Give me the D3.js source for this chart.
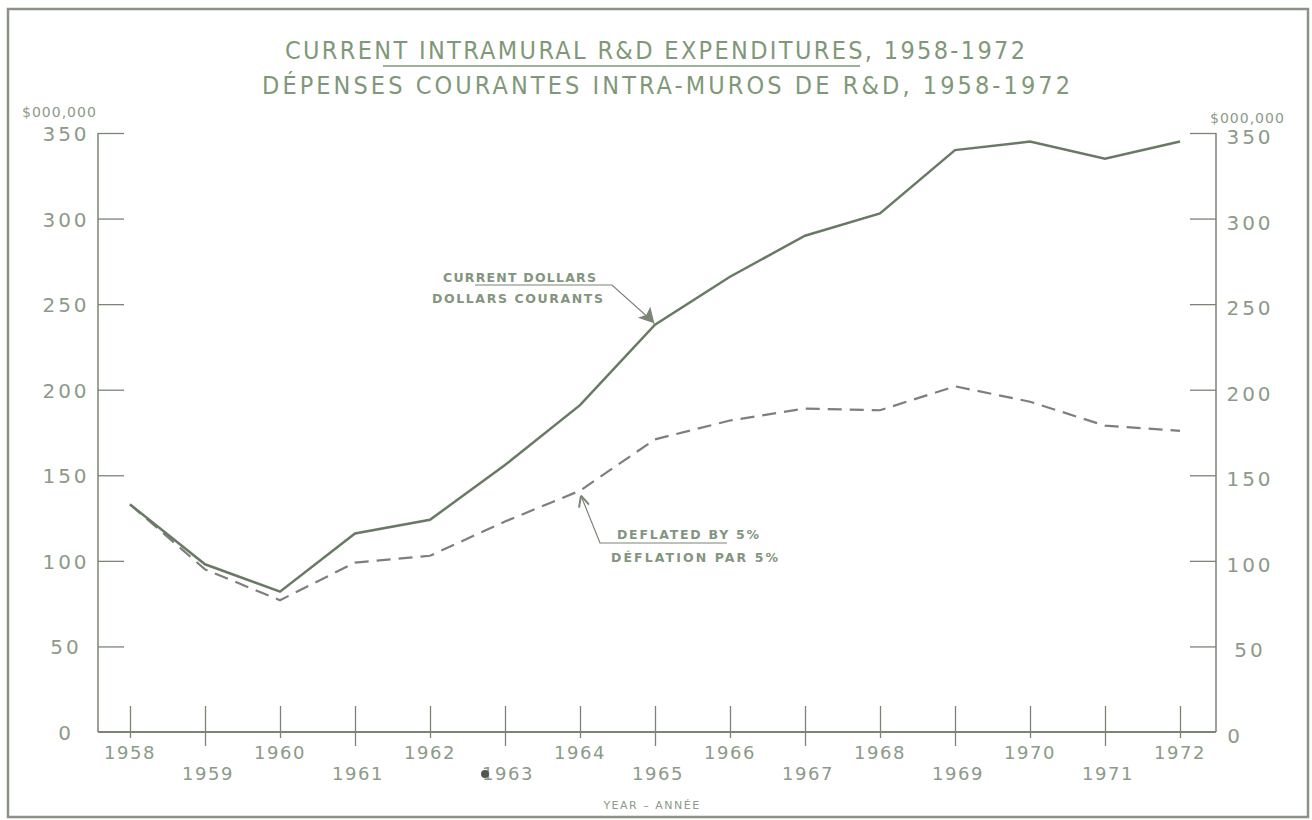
<!DOCTYPE html>
<html><head><meta charset="utf-8">
<script src="https://cdn.jsdelivr.net/npm/d3@7"></script>
<style>body{margin:0;background:#fff}svg{display:block}text{font-family:"DejaVu Sans",sans-serif}
.cond{font-family:"DejaVu Sans Condensed","DejaVu Sans",sans-serif;font-stretch:condensed}</style>
</head><body><svg id="c" width="1312" height="820"></svg>
<script>
const years = [1958,1959,1960,1961,1962,1963,1964,1965,1966,1967,1968,1969,1970,1971,1972];
const currentDollars = [133,98,82,116,124,156,191,238,266,290,303,340,345,335,345];
const deflated = [133,95,77,99,103,123,141,171,182,189,188,202,193,179,176];
const yTicks = [0,50,100,150,200,250,300,350];
const titleLines = ["CURRENT INTRAMURAL R&D EXPENDITURES, 1958-1972","DÉPENSES COURANTES INTRA-MUROS DE R&D, 1958-1972"];
const unitLabel = "$000,000";
const xTitle = "YEAR – ANNÉE";

const svg = d3.select("#c");
const lineCol = "#687a64", textCol = "#8c9a88", axisCol = "#7a8576";
const L = 98, R = 1216, T = 133, B = 732;
const x = d3.scaleLinear().domain([1958,1972]).range([130,1180]);
const y = d3.scaleLinear().domain([0,350]).range([B,T]);

// frame
svg.append("rect").attr("x",8).attr("y",9).attr("width",1300).attr("height",808)
  .attr("fill","none").attr("stroke","#8a9386").attr("stroke-width",2.5);

// titles
svg.append("text").attr("class","cond").attr("x",655).attr("y",59).attr("text-anchor","middle")
  .attr("font-size",25).attr("fill","#7f9878").attr("textLength",740).attr("lengthAdjust","spacing").text(titleLines[0]);
svg.append("text").attr("class","cond").attr("x",666).attr("y",94).attr("text-anchor","middle")
  .attr("font-size",25).attr("fill","#7f9878").attr("textLength",808).attr("lengthAdjust","spacing").text(titleLines[1]);
svg.append("line").attr("x1",383).attr("x2",860).attr("y1",66).attr("y2",66).attr("stroke","#7f9878").attr("stroke-width",1.5);

// left axis
const gl = svg.append("g").attr("transform",`translate(${L},0)`)
  .call(d3.axisRight(y).tickValues(yTicks).tickSize(26).tickFormat(""));
gl.select(".domain").attr("d",`M0,${T}V${B}`).attr("stroke",axisCol).attr("stroke-width",1.5);
gl.selectAll(".tick line").attr("stroke",axisCol).attr("stroke-width",1.3).filter(d=>d===0).remove();
svg.selectAll(".ylabL").data(yTicks).join("text").attr("x",66).attr("y",d=>y(d)+8)
  .attr("text-anchor","middle").attr("font-size",20).attr("letter-spacing",3).attr("fill",textCol).text(d=>d);
svg.append("text").attr("x",22).attr("y",117).attr("font-size",14).attr("letter-spacing",1).attr("fill",textCol).text(unitLabel);

// right axis
const gr = svg.append("g").attr("transform",`translate(${R},0)`)
  .call(d3.axisLeft(y).tickValues(yTicks).tickSize(26).tickFormat(""));
gr.select(".domain").attr("d",`M0,${T}V${B}`).attr("stroke",axisCol).attr("stroke-width",1.5);
gr.selectAll(".tick line").attr("stroke",axisCol).attr("stroke-width",1.3).filter(d=>d===0).remove();
svg.selectAll(".ylabR").data(yTicks).join("text").attr("x",d=>d===0?1235:1250).attr("y",d=>y(d)+11)
  .attr("text-anchor","middle").attr("font-size",20).attr("letter-spacing",3).attr("fill",textCol).text(d=>d);
svg.append("text").attr("x",1210).attr("y",123).attr("font-size",14).attr("letter-spacing",1).attr("fill",textCol).text(unitLabel);

// x axis
svg.append("line").attr("x1",L).attr("x2",R).attr("y1",B).attr("y2",B).attr("stroke",axisCol).attr("stroke-width",2);
const gx = svg.append("g").attr("transform",`translate(0,${B})`)
  .call(d3.axisBottom(x).tickValues(years).tickSize(0).tickFormat(""));
gx.select(".domain").remove();
gx.selectAll(".tick").append("line").attr("y1",-26).attr("y2",d=>(d-1958)%2?14:6).attr("stroke",axisCol).attr("stroke-width",1.3);
svg.selectAll(".xlab").data(years).join("text")
  .attr("x",d=>x(d)+((d-1958)%2?3:0)).attr("y",d=>(d-1958)%2?780:759).attr("text-anchor","middle")
  .attr("font-size",18).attr("letter-spacing",1.5).attr("fill",textCol).text(d=>d);
svg.append("text").attr("x",652).attr("y",809).attr("text-anchor","middle").attr("font-size",11)
  .attr("letter-spacing",1.5).attr("fill",textCol).text(xTitle);
svg.append("circle").attr("cx",485).attr("cy",774).attr("r",4).attr("fill","#555");

// lines
const ln = (arr)=>d3.line().x((d,i)=>x(years[i])).y(d=>y(d))(arr);
svg.append("path").attr("d",ln(deflated)).attr("fill","none").attr("stroke","#7c7f7a")
  .attr("stroke-width",2.2).attr("stroke-dasharray","14,8");
svg.append("path").attr("d",ln(currentDollars)).attr("fill","none").attr("stroke",lineCol).attr("stroke-width",2.5);

// annotations
const ann = svg.append("g").attr("fill","#82957e").attr("font-size",12.5).attr("font-weight","bold").attr("letter-spacing",2);
ann.append("text").attr("x",443).attr("y",282).attr("textLength",155).text("CURRENT DOLLARS");
ann.append("text").attr("x",432).attr("y",303).attr("textLength",173).text("DOLLARS COURANTS");
const a1x = x(1965), a1y = y(currentDollars[7]);
svg.append("path").attr("d",`M475,285H612L${a1x-2},${a1y-3}`).attr("fill","none").attr("stroke",axisCol).attr("stroke-width",1.2);
svg.append("path").attr("d",`M${a1x-2},${a1y-3}l-3,-12l-3,6zM${a1x-2},${a1y-3}l-12,-4l6,-2z`).attr("stroke",axisCol).attr("fill",axisCol).attr("stroke-width",2);
ann.append("text").attr("x",617).attr("y",539).attr("textLength",144).text("DEFLATED BY 5%");
ann.append("text").attr("x",611).attr("y",562).attr("textLength",169).text("DÉFLATION PAR 5%");
const a2x = x(1964), a2y = y(deflated[6]);
svg.append("path").attr("d",`M727,543H600L${a2x+1},${a2y+5}`).attr("fill","none").attr("stroke",axisCol).attr("stroke-width",1.2);
svg.append("path").attr("d",`M${a2x+1},${a2y+5}l-2,12M${a2x+1},${a2y+5}l8,9`).attr("stroke",axisCol).attr("stroke-width",2);
</script></body></html>
